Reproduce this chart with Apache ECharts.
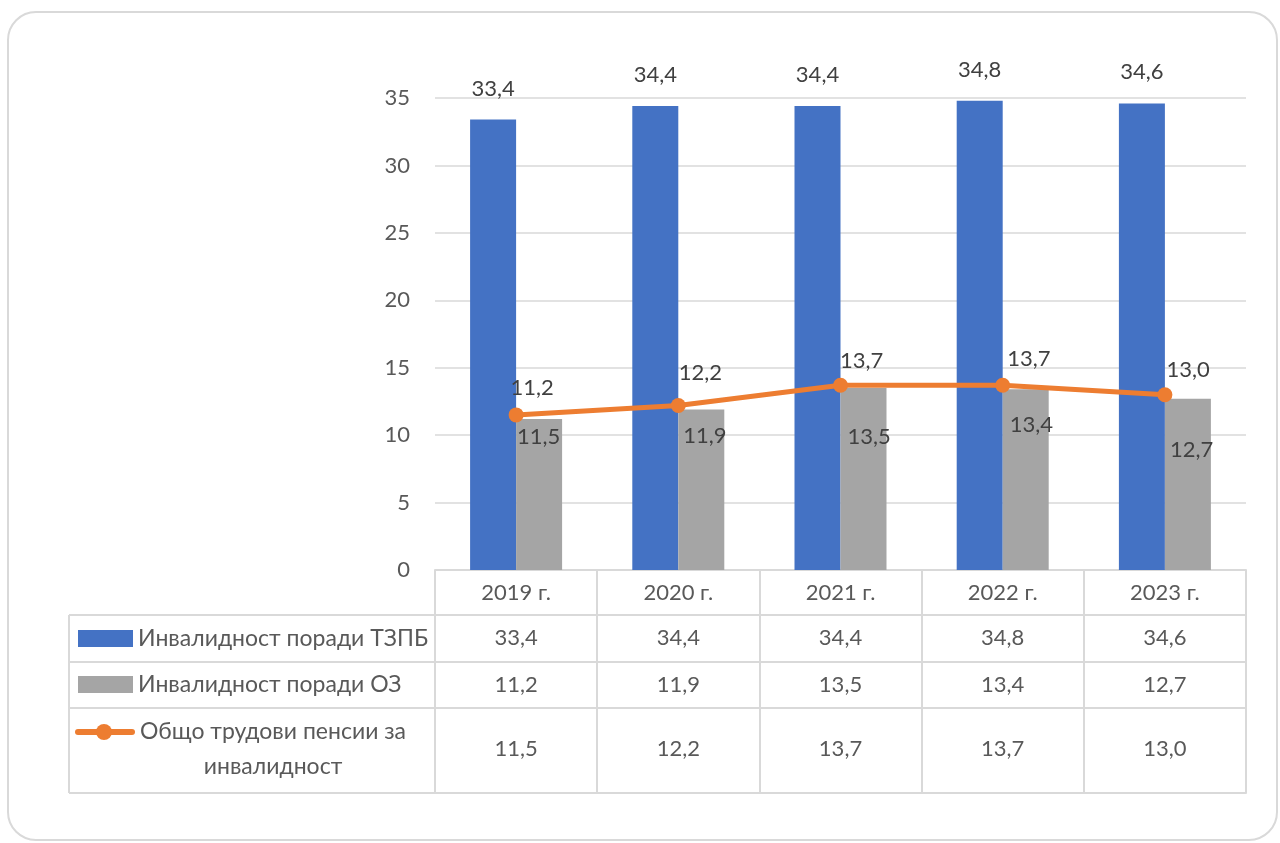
<!DOCTYPE html>
<html lang="bg">
<head>
    <meta charset="UTF-8">
    <title>Инвалидност</title>
    <script src="https://cdn.jsdelivr.net/npm/echarts@6/dist/echarts.min.js"></script>
    <style>html,body{margin:0;background:#fff;}</style>
</head>
<body>
    <div id="main" style="width:1280px;height:843px;"></div>

    <script>
// данни
var years = ['2019 г.', '2020 г.', '2021 г.', '2022 г.', '2023 г.'];
var seriesNames = ['Инвалидност поради ТЗПБ', 'Инвалидност поради ОЗ', 'Общо трудови пенсии за инвалидност'];
var tzpb = [33.4, 34.4, 34.4, 34.8, 34.6];
var oz = [11.2, 11.9, 13.5, 13.4, 12.7];
var total = [11.5, 12.2, 13.7, 13.7, 13.0];
// етикетите в графиката, както са на картинката
var upperLabels = ['11,2', '12,2', '13,7', '13,7', '13,0'];
var lowerLabels = ['11,5', '11,9', '13,5', '13,4', '12,7'];
var yMin = 0, yMax = 35, yStep = 5;

// стил
var blue = '#4472C4', grey = '#A5A5A5', orange = '#ED7D31';
var txt = '#595959', lbl = '#404040', border = '#D9D9D9';
var font = 'Lato, "Noto Sans", sans-serif';
var upperPos = [[2, -20], [8, -25], [7, -17], [12, -19], [9, -17]];
var lowerPos = [[1, 18], [5, 26], [7, 49], [7, 36], [5, 51]];

function fmt(v) { return v.toFixed(1).replace('.', ','); }

var chart = echarts.init(document.getElementById('main'));

function rowAxis(values, offset, margin) {
    return {
        type: 'category', position: 'bottom', offset: offset,
        data: values,
        axisLine: { show: true, lineStyle: { color: border, width: 2 } },
        axisTick: { show: false },
        axisLabel: { show: values.length > 0, interval: 0, margin: margin, fontSize: 22, color: txt, fontFamily: font }
    };
}

var tableLines = [615, 662, 708, 793].map(function (y) {
    return { type: 'line', shape: { x1: 69, y1: y, x2: 435, y2: y }, style: { stroke: border, lineWidth: 2 } };
});

chart.setOption({
    textStyle: { fontFamily: font },
    animation: false,
    grid: { left: 435, right: 34, top: 98, bottom: 273 },
    xAxis: [
        {
            type: 'category', data: years,
            axisLine: { lineStyle: { color: border, width: 2 } },
            axisTick: { show: true, length: 223, interval: 0, lineStyle: { color: border, width: 2 } },
            axisLabel: { interval: 0, margin: 12, fontSize: 22, color: txt, fontFamily: font }
        },
        rowAxis(tzpb.map(fmt), 45, 12),
        rowAxis(oz.map(fmt), 92, 12),
        rowAxis(total.map(fmt), 138, 30),
        rowAxis(['', '', '', '', ''], 223, 10)
    ],
    yAxis: {
        type: 'value', min: yMin, max: yMax, interval: yStep,
        axisLine: { show: false }, axisTick: { show: false },
        axisLabel: { margin: 25, fontSize: 22, color: txt, fontFamily: font },
        splitLine: { lineStyle: { color: border, width: 1.5 } }
    },
    series: [
        {
            name: seriesNames[0], type: 'bar', data: tzpb,
            barWidth: 46, barGap: '0%',
            itemStyle: { color: blue },
            label: { show: true, position: 'top', distance: 20, fontSize: 22, color: lbl, formatter: function (p) { return fmt(p.value); } }
        },
        {
            name: seriesNames[1], type: 'bar', barWidth: 46,
            data: oz.map(function (v, i) {
                return { value: v, label: { position: lowerPos[i] } };
            }),
            itemStyle: { color: grey },
            label: {
                show: true, align: 'left', verticalAlign: 'middle', fontSize: 22, color: lbl,
                formatter: function (p) { return lowerLabels[p.dataIndex]; }
            }
        },
        {
            name: seriesNames[2], type: 'line',
            data: total.map(function (v, i) {
                return { value: v, label: { position: upperPos[i] } };
            }),
            symbol: 'circle', symbolSize: 15,
            lineStyle: { color: orange, width: 5 },
            itemStyle: { color: orange },
            label: {
                show: true, align: 'left', verticalAlign: 'middle', fontSize: 22, color: lbl,
                formatter: function (p) { return upperLabels[p.dataIndex]; }
            },
            z: 5
        }
    ],
    graphic: [
        { type: 'rect', shape: { x: 8, y: 12, width: 1269, height: 828, r: 28 }, style: { fill: 'none', stroke: border, lineWidth: 2 }, silent: true },
        { type: 'line', shape: { x1: 69, y1: 615, x2: 69, y2: 793 }, style: { stroke: border, lineWidth: 2 } }
    ].concat(tableLines).concat([
        { type: 'rect', shape: { x: 78, y: 630, width: 55, height: 17 }, style: { fill: blue } },
        { type: 'text', x: 138, y: 639, style: { text: seriesNames[0], fill: txt, font: '23px ' + font, verticalAlign: 'middle' } },
        { type: 'rect', shape: { x: 78, y: 676, width: 55, height: 17 }, style: { fill: grey } },
        { type: 'text', x: 138, y: 685, style: { text: seriesNames[1], fill: txt, font: '23px ' + font, verticalAlign: 'middle' } },
        { type: 'line', shape: { x1: 78, y1: 732, x2: 132, y2: 732 }, style: { stroke: orange, lineWidth: 6, lineCap: 'round' } },
        { type: 'circle', shape: { cx: 104, cy: 732, r: 8 }, style: { fill: orange } },
        { type: 'text', x: 273, y: 732, style: { text: 'Общо трудови пенсии за', fill: txt, font: '23px ' + font, align: 'center', verticalAlign: 'middle' } },
        { type: 'text', x: 273, y: 767, style: { text: 'инвалидност', fill: txt, font: '23px ' + font, align: 'center', verticalAlign: 'middle' } }
    ])
});

window.onresize = function () { chart.resize(); };
    </script>
</body>
</html>
